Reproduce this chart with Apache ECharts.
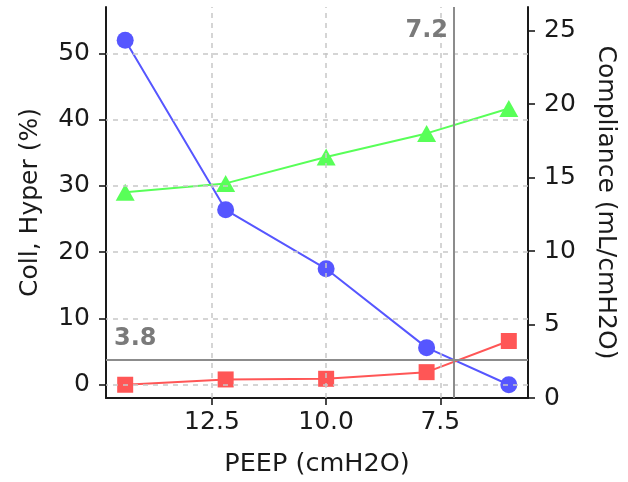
<!DOCTYPE html>
<html>
<head>
<meta charset="utf-8">
<script src="https://cdn.jsdelivr.net/npm/echarts@6/dist/echarts.min.js"></script>
<style>html,body{margin:0;padding:0;background:#fff}#c{width:628px;height:482px}</style>
</head>
<body>
<div id="c"></div>
<script>
const peep = [14.4, 12.2, 10.0, 7.8, 6.0];
const hyper = [52.0, 26.4, 17.5, 5.6, 0.0];
const coll = [0.0, 0.8, 0.9, 1.9, 6.6];
const compliance = [14.0, 14.6, 16.4, 18.0, 19.7];
const xTicks = [12.5, 10.0, 7.5];
const yLeftTicks = [0, 10, 20, 30, 40, 50];
const yRightTicks = [0, 5, 10, 15, 20, 25];
const bestPeep = 7.2;
const bestPct = 3.8;

const xPad = (Math.max(...peep) - Math.min(...peep)) * 0.05;
const xMin = Math.min(...peep) - xPad;
const xMax = Math.max(...peep) + xPad;
const yLeftMin = -2, yLeftMax = 57;
const yRightMin = 0, yRightMax = 26.6;

const FONT = 'DejaVu Sans';
const TXT = '#1a1a1a';
const BLUE = '#5656ff', RED = '#ff5656', GREEN = '#58ff58';

const chart = echarts.init(document.getElementById('c'), null, {renderer: 'canvas'});
const axisLine = {onZero: false, lineStyle: {color: '#1a1a1a', width: 2}};
const tick = vals => ({customValues: vals, length: 7, lineStyle: {color: '#1a1a1a', width: 1.6}});
const lbl = (vals, margin, fmt) => ({customValues: vals, fontSize: 25, fontFamily: FONT, color: TXT, margin: margin, formatter: fmt});
const pair = arr => arr.map((v, i) => [peep[i], v]);

const option = {
  animation: false,
  grid: {left: 106, right: 100, top: 7, bottom: 83},
  xAxis: {
    type: 'value', inverse: true, min: xMin, max: xMax,
    name: 'PEEP (cmH2O)', nameLocation: 'middle', nameGap: 53,
    nameTextStyle: {fontSize: 25.5, fontFamily: FONT, color: TXT},
    axisLine: axisLine, axisTick: tick(xTicks),
    axisLabel: lbl(xTicks, 12, v => Number(v).toFixed(1)),
    splitLine: {show: false}
  },
  yAxis: [
    {
      type: 'value', position: 'left', min: yLeftMin, max: yLeftMax,
      name: 'Coll, Hyper (%)', nameLocation: 'middle', nameGap: 63, nameRotate: 90,
      nameTextStyle: {fontSize: 25, fontFamily: FONT, color: TXT},
      axisLine: Object.assign({show: true}, axisLine), axisTick: Object.assign({show: true}, tick(yLeftTicks)),
      axisLabel: lbl(yLeftTicks, 16, v => String(v)),
      splitLine: {show: false}
    },
    {
      type: 'value', position: 'right', min: yRightMin, max: yRightMax,
      name: 'Compliance (mL/cmH2O)', nameLocation: 'middle', nameGap: 65, nameRotate: -90,
      nameTextStyle: {fontSize: 25, fontFamily: FONT, color: TXT},
      axisLine: Object.assign({show: true}, axisLine), axisTick: Object.assign({show: true}, tick(yRightTicks)),
      axisLabel: lbl(yRightTicks, 16, v => String(v)),
      splitLine: {show: false}
    }
  ],
  series: [
    {
      type: 'line', name: 'grid', data: [], z: 0, silent: true,
      markLine: {
        silent: true, symbol: 'none', label: {show: false}, animation: false,
        lineStyle: {type: [5, 5], color: '#c8c8c8', width: 1.5},
        data: xTicks.map(v => ({xAxis: v})).concat(yLeftTicks.map(v => ({yAxis: v})))
      }
    },
    {
      type: 'line', name: 'ref', data: [], z: 1, silent: true,
      markLine: {
        silent: true, symbol: 'none', label: {show: false}, animation: false,
        lineStyle: {type: 'solid', color: '#8c8c8c', width: 2},
        data: [{xAxis: bestPeep}, {yAxis: bestPct}]
      }
    },
    {
      type: 'line', name: 'Hyper', data: pair(hyper), yAxisIndex: 0, z: 3,
      symbol: 'circle', symbolSize: 17, showAllSymbol: true,
      lineStyle: {color: BLUE, width: 2}, itemStyle: {color: BLUE, borderWidth: 0}
    },
    {
      type: 'line', name: 'Coll', data: pair(coll), yAxisIndex: 0, z: 3,
      symbol: 'rect', symbolSize: 16,
      lineStyle: {color: RED, width: 2}, itemStyle: {color: RED, borderWidth: 0}
    },
    {
      type: 'line', name: 'Compliance', data: pair(compliance), yAxisIndex: 1, z: 4,
      symbol: 'triangle', symbolSize: [19, 17],
      lineStyle: {color: GREEN, width: 2}, itemStyle: {color: GREEN, borderWidth: 0}
    }
  ]
};
chart.setOption(option);

const pTop = chart.convertToPixel({xAxisIndex: 0, yAxisIndex: 0}, [bestPeep, yLeftMax]);
const pLeft = chart.convertToPixel({xAxisIndex: 0, yAxisIndex: 0}, [xMax, bestPct]);
chart.setOption({
  graphic: [
    {type: 'text', x: pTop[0] - 6, y: pTop[1] + 12, z: 10,
     style: {text: String(bestPeep.toFixed(1)), fontSize: 24, fontWeight: 'bold', fontFamily: FONT, fill: '#7a7a7a', align: 'right', verticalAlign: 'top'}},
    {type: 'text', x: pLeft[0] + 8, y: pLeft[1] - 9, z: 10,
     style: {text: String(bestPct.toFixed(1)), fontSize: 24, fontWeight: 'bold', fontFamily: FONT, fill: '#7a7a7a', align: 'left', verticalAlign: 'bottom'}}
  ]
});
</script>
</body>
</html>
